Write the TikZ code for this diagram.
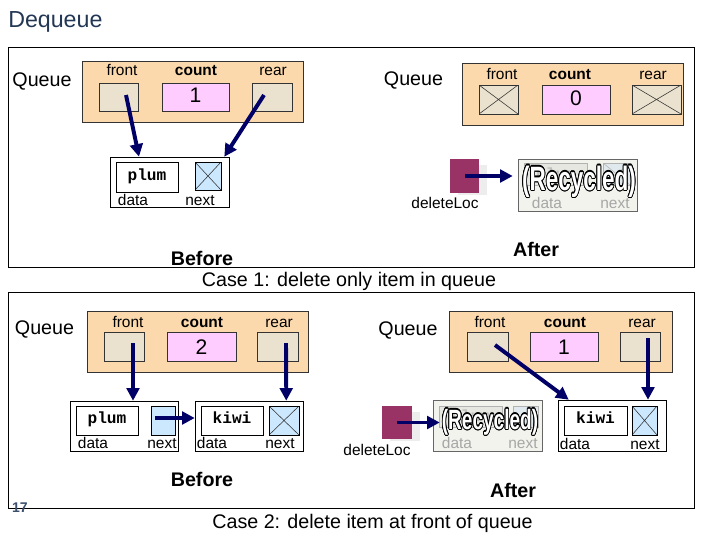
\documentclass[tikz,border=0pt]{standalone}
\usepackage{fontspec}
\setmainfont{Liberation Sans}
\setmonofont{Liberation Mono}
\usepackage{contour}
\contourlength{0.7pt}
\usetikzlibrary{arrows.meta,calc}

\definecolor{navy}{RGB}{0,0,102}
\definecolor{peach}{RGB}{252,217,172}
\definecolor{fieldbg}{RGB}{234,226,206}
\definecolor{pinkbg}{RGB}{255,204,255}
\definecolor{nextblue}{RGB}{204,232,255}
\definecolor{ptrred}{RGB}{153,51,102}
\definecolor{oldbg}{RGB}{243,243,238}
\definecolor{oldnextbg}{RGB}{224,234,238}
\definecolor{titleblue}{RGB}{35,55,85}
\definecolor{slidenum}{RGB}{60,80,110}

\begin{document}
\begin{tikzpicture}[
    x=0.025cm, y=-0.025cm,
    wh/.style 2 args={minimum width=#1*0.025cm, minimum height=#2*0.025cm},
    panel/.style={draw=black, line width=0.7pt},
    queuebox/.style={rectangle, draw=black!80, fill=peach, inner sep=0pt},
    field/.style={rectangle, draw=black!80, fill=fieldbg, inner sep=0pt},
    countbox/.style={rectangle, draw=black!80, fill=pinkbg, inner sep=0pt},
    listnode/.style={rectangle, draw=black, fill=white, inner sep=0pt},
    databox/.style={rectangle, draw=black, fill=white, inner sep=0pt},
    nextbox/.style={rectangle, draw=black, fill=nextblue, inner sep=0pt},
    nullx/.style={path picture={\draw[#1, line width=0.4pt]
        (path picture bounding box.north west) -- (path picture bounding box.south east)
        (path picture bounding box.north east) -- (path picture bounding box.south west);}},
    nullx/.default=black!80,
    ptrbox/.style={rectangle, fill=ptrred, inner sep=0pt},
    ptrshadow/.style={rectangle, fill=black!7, inner sep=0pt},
    oldnode/.style={rectangle, draw=black!60, fill=oldbg, inner sep=0pt},
    olddata/.style={rectangle, draw=black!30, fill=oldbg!95!black, inner sep=0pt},
    oldnext/.style={rectangle, draw=black!30, fill=oldnextbg, inner sep=0pt},
    txt/.style={inner sep=0pt, anchor=base, font=\fontsize{11}{13}\selectfont},
    cnt/.style={txt, font=\fontsize{11}{13}\selectfont\bfseries},
    faded/.style={txt, text=black!35},
    big/.style={inner sep=0pt, anchor=base, font=\fontsize{14}{16}\selectfont},
    caption/.style={big, font=\fontsize{14}{16}\selectfont\bfseries},
    digit/.style={inner sep=0pt, anchor=base, font=\fontsize{15}{17}\selectfont},
    item/.style={inner sep=0pt, anchor=base, font=\fontsize{11.5}{13}\ttfamily\bfseries},
    recycled/.style={inner sep=0pt, font=\fontsize{#1}{#1}\selectfont\bfseries},
    arrow/.style={-{Triangle[length=9pt, width=9pt]}, draw=navy, line width=2.8pt}
]
\useasboundingbox (0,0) rectangle (720,540);

\node[inner sep=0pt, anchor=base west, font=\fontsize{16.5}{18}\selectfont, text=titleblue] (title) at (8,27) {Dequeue};

\draw[panel] (8,47) rectangle (694,267);
\draw[panel] (8,292) rectangle (694,508);

% case 1, before
\node[big] (queueA) at (42,86) {Queue};
\node[queuebox, wh={221}{61}] (qboxA) at (192.5,91.5) {};
\node[field, wh={39}{28}] (frontA) at (118.5,97) {};
\node[countbox, wh={67}{28}] (countA) at (195.5,97) {};
\node[field, wh={40}{28}] (rearA) at (272,97) {};
\node[txt] (frontAlbl) at (122,75.5) {front};
\node[cnt] (countAlbl) at (196,75.5) {count};
\node[txt] (rearAlbl) at (273,75.5) {rear};
\node[digit] (countAval) at (195.5,102) {1};
\node[listnode, wh={119}{50}] (plumA) at (169.5,182) {};
\node[databox, wh={62}{30}] (plumAdata) at (147,177) {};
\node[nextbox, nullx, wh={26}{28}] (plumAnext) at (208,176) {};
\node[item] (plumAtxt) at (147,180) {plum};
\node[txt] (plumAdl) at (133,205) {data};
\node[txt] (plumAnl) at (200,205) {next};
\draw[arrow] ($(frontA.center)+(7.5,-2)$) -- ($(plumA.north)+(-30.5,0)$);
\draw[arrow] ($(rearA.center)+(-8,-2)$) -- ($(plumA.north east)+(-5,0)$);
\node[caption] (beforeA) at (202,265) {Before};

% case 1, after
\node[big] (queueB) at (413.5,85) {Queue};
\node[queuebox, wh={221}{62}] (qboxB) at (572.5,94) {};
\node[field, nullx, wh={39}{29}] (frontB) at (498.5,99.5) {};
\node[countbox, wh={68}{29}] (countB) at (576,99.5) {};
\node[field, nullx, wh={49}{29}] (rearB) at (656.5,99.5) {};
\node[txt] (frontBlbl) at (502,79) {front};
\node[cnt] (countBlbl) at (570,79) {count};
\node[txt] (rearBlbl) at (653,79) {rear};
\node[digit] (countBval) at (576,105) {0};
\node[ptrshadow, wh={29}{30}] (delBsh) at (472,180) {};
\node[ptrbox, wh={29}{34}] (delB) at (464.5,176) {};
\node[txt] (delBlbl) at (445,208) {deleteLoc};
\node[oldnode, wh={119}{52}] (oldB) at (577.5,185) {};
\node[olddata, wh={63}{22}] (oldBdata) at (555.5,174) {};
\node[oldnext, nullx=black!30, wh={27}{22}] (oldBnext) at (616.5,174) {};
\node[item, text=black!25] (oldBtxt) at (555.5,179) {plum};
\node[faded] (oldBdl) at (547,208) {data};
\node[faded] (oldBnl) at (615,208) {next};
\draw[arrow] (delB.center) -- ($(delB.center -| oldB.west)+(-5,0)$);
\node[recycled=20] (recB) at (579,182) {\scalebox{0.8}[1.2]{\contour{black}{\textcolor{white}{(Recycled)}}}};
\node[caption] (afterB) at (536,256.5) {After};

\node[big] (case1) at (349,286) {Case 1: delete only item in queue};

% case 2, before
\node[big] (queueC) at (44.5,334) {Queue};
\node[queuebox, wh={221}{61}] (qboxC) at (197.5,341.5) {};
\node[field, wh={40}{29}] (frontC) at (124,346.5) {};
\node[countbox, wh={69}{29}] (countC) at (201.5,346.5) {};
\node[field, wh={41}{29}] (rearC) at (277.5,346.5) {};
\node[txt] (frontClbl) at (128,327) {front};
\node[cnt] (countClbl) at (202,327) {count};
\node[txt] (rearClbl) at (279,327) {rear};
\node[digit] (countCval) at (201.5,354) {2};
\node[listnode, wh={108}{50}] (plumC) at (124,426) {};
\node[databox, wh={62}{29}] (plumCdata) at (107,420.5) {};
\node[nextbox, wh={24}{29}] (plumCnext) at (163,420.5) {};
\node[item] (plumCtxt) at (107,423) {plum};
\node[txt] (plumCdl) at (93,448) {data};
\node[txt] (plumCnl) at (162,448) {next};
\node[listnode, wh={108}{50}] (kiwiC) at (249,426) {};
\node[databox, wh={62}{29}] (kiwiCdata) at (232,420.5) {};
\node[nextbox, nullx, wh={30}{29}] (kiwiCnext) at (284,420.5) {};
\node[item] (kiwiCtxt) at (232,423) {kiwi};
\node[txt] (kiwiCdl) at (212,448) {data};
\node[txt] (kiwiCnl) at (280,448) {next};
\draw[arrow] ($(frontC.center)+(9,-3.5)$) -- ($(plumC.north)+(9,0)$);
\draw[arrow] ($(rearC.center)+(8.5,-3.5)$) -- ($(kiwiC.north east)+(-17,0)$);
\draw[arrow] ($(plumCnext.center)+(-8,-2.5)$) -- ($(kiwiC.west)+(0,-8)$);
\node[caption] (beforeC) at (202,486) {Before};
\node[inner sep=0pt, anchor=base, font=\fontsize{10}{12}\selectfont\bfseries, text=slidenum] (pagenum) at (20,512) {17};

% case 2, after
\node[big] (queueD) at (408,335) {Queue};
\node[queuebox, wh={223}{61}] (qboxD) at (560.5,341.5) {};
\node[field, wh={41}{29}] (frontD) at (487.5,346.5) {};
\node[countbox, wh={68}{29}] (countD) at (564,346.5) {};
\node[field, wh={40}{29}] (rearD) at (640,346.5) {};
\node[txt] (frontDlbl) at (490,327) {front};
\node[cnt] (countDlbl) at (565,327) {count};
\node[txt] (rearDlbl) at (642,327) {rear};
\node[digit] (countDval) at (564,354) {1};
\node[ptrshadow, wh={30}{29}] (delDsh) at (405,426) {};
\node[ptrbox, wh={30}{33}] (delD) at (397,422.5) {};
\node[txt] (delDlbl) at (377,455) {deleteLoc};
\node[oldnode, wh={109}{51}] (oldD) at (487.5,425.5) {};
\node[olddata, wh={63}{21}] (oldDdata) at (470.5,416.5) {};
\node[oldnext, wh={25}{21}] (oldDnext) at (525.5,416.5) {};
\node[item, text=black!25] (oldDtxt) at (470.5,421) {plum};
\node[faded] (oldDdl) at (457,448) {data};
\node[faded] (oldDnl) at (523,448) {next};
\draw[arrow] (delD.center) -- ($(delD.center -| oldD.west)+(7,0)$);
\node[recycled=16.5] (recD) at (490,422.5) {\scalebox{0.82}[1.2]{\contour{black}{\textcolor{white}{(Recycled)}}}};
\node[listnode, wh={108}{51}] (kiwiD) at (612,425.5) {};
\node[databox, wh={63}{29}] (kiwiDdata) at (595.5,420.5) {};
\node[nextbox, nullx, wh={25}{29}] (kiwiDnext) at (644.5,420.5) {};
\node[item] (kiwiDtxt) at (595.5,423) {kiwi};
\node[txt] (kiwiDdl) at (575,449) {data};
\node[txt] (kiwiDnl) at (645,449) {next};
\draw[arrow] ($(frontD.center)+(7.5,-1.5)$) -- ($(kiwiD.north west)+(11,0)$);
\draw[arrow] ($(rearD.center)+(8,-8.5)$) -- ($(kiwiD.north)+(36,0)$);
\node[caption] (afterD) at (513,497) {After};

\node[big] (case2) at (372.5,528) {Case 2: delete item at front of queue};

\end{tikzpicture}
\end{document}
